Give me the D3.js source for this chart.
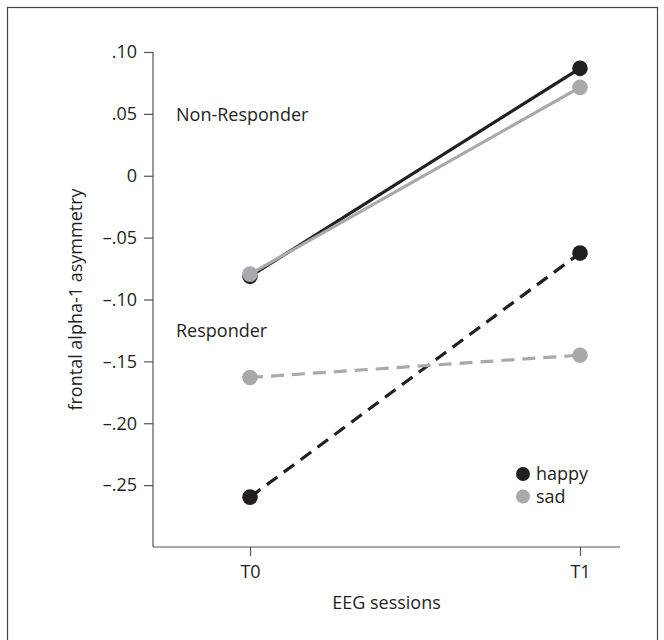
<!DOCTYPE html>
<meta charset="utf-8">
<style>
body { margin: 0; background: #fff; }
text { font-family: "Open Sans", sans-serif; fill: #231f20; }
.axis path, .axis line { stroke: #555; stroke-width: 1.2; }
</style>
<body>
<script src="https://cdn.jsdelivr.net/npm/d3@7"></script>
<script>

// data
var sessions = ["T0", "T1"];
var yTicks = [0.10, 0.05, 0, -0.05, -0.10, -0.15, -0.20, -0.25];
var yTickLabels = [".10", ".05", "0", "\u2013.05", "\u2013.10", "\u2013.15", "\u2013.20", "\u2013.25"];
var nonRespHappy = [-0.0813, 0.0868];
var nonRespSad = [-0.0795, 0.0714];
var respHappy = [-0.2597, -0.0625];
var respSad = [-0.1630, -0.1450];
var emotions = ["happy", "sad"];

var black = "#231f20", grey = "#a7a9ac";
var fs = "18px";

var W = 664, H = 640;
var svg = d3.select("body").append("svg")
  .attr("width", W)
  .attr("height", H);

// frame
svg.append("rect")
  .attr("x", 7.5).attr("y", 7.5)
  .attr("width", 650).attr("height", 660)
  .attr("fill", "none")
  .attr("stroke", "#444")
  .attr("stroke-width", 1.2);

var mLeft = 153, mRight = 620, mTop = 52, mBottom = 547;

var x = d3.scalePoint()
  .domain(sessions)
  .range([250, 580]);

var y = d3.scaleLinear()
  .domain([-0.30, 0.10])
  .range([mBottom, mTop]);

// y axis
var yAxis = svg.append("g")
  .attr("class", "axis")
  .attr("transform", "translate(" + mLeft + ",0)")
  .call(d3.axisLeft(y)
    .tickValues(yTicks)
    .tickFormat(function(d, i) { return yTickLabels[i]; })
    .tickSize(9)
    .tickSizeOuter(0)
    .tickPadding(7));
yAxis.select(".domain").remove();
yAxis.append("line")
  .attr("x1", 0).attr("x2", 0)
  .attr("y1", y(0.10)).attr("y2", mBottom);
yAxis.selectAll("text")
  .style("font-size", fs)
  .attr("font-family", null)
  .attr("fill", "#231f20");

// x axis
var xAxis = svg.append("g")
  .attr("class", "axis")
  .attr("transform", "translate(0," + mBottom + ")")
  .call(d3.axisBottom(x)
    .tickSize(9)
    .tickSizeOuter(0)
    .tickPadding(9));
xAxis.select(".domain").remove();
xAxis.append("line")
  .attr("x1", mLeft).attr("x2", mRight)
  .attr("y1", 0).attr("y2", 0);
xAxis.selectAll("text")
  .style("font-size", fs)
  .attr("fill", "#231f20");
svg.selectAll(".axis").attr("font-family", null);

// axis titles
svg.append("text")
  .attr("x", (mLeft + mRight) / 2)
  .attr("y", 609)
  .attr("text-anchor", "middle")
  .style("font-size", fs)
  .text("EEG sessions");

svg.append("text")
  .attr("transform", "translate(82," + (mTop + mBottom) / 2 + ") rotate(-90)")
  .attr("text-anchor", "middle")
  .style("font-size", fs)
  .text("frontal alpha-1 asymmetry");

// group labels
svg.append("text")
  .attr("x", 176).attr("y", 121)
  .style("font-size", fs)
  .text("Non-Responder");
svg.append("text")
  .attr("x", 176).attr("y", 337)
  .style("font-size", fs)
  .text("Responder");

var series = [
  {vals: respHappy, color: black, dash: "13,8"},
  {vals: respSad, color: grey, dash: "13,8"},
  {vals: nonRespHappy, color: black, dash: null},
  {vals: nonRespSad, color: grey, dash: null}
];

var line = d3.line()
  .x(function(d, i) { return x(sessions[i]); })
  .y(function(d) { return y(d); });

series.forEach(function(s) {
  var g = svg.append("g");
  g.append("path")
    .datum(s.vals)
    .attr("d", line)
    .attr("fill", "none")
    .attr("stroke", s.color)
    .attr("stroke-width", 3.2)
    .attr("stroke-dasharray", s.dash);
  g.selectAll("circle")
    .data(s.vals)
    .enter()
    .append("circle")
    .attr("cx", function(d, i) { return x(sessions[i]); })
    .attr("cy", function(d) { return y(d); })
    .attr("r", 7.8)
    .attr("fill", s.color);
});

// legend
var legend = svg.append("g")
  .attr("transform", "translate(523,474)");
emotions.forEach(function(e, i) {
  legend.append("circle")
    .attr("cx", 0).attr("cy", i * 22.5)
    .attr("r", 7)
    .attr("fill", i == 0 ? black : grey);
  legend.append("text")
    .attr("x", 13).attr("y", i * 22.5 + 6)
    .style("font-size", fs)
    .text(e);
});

</script>
</body>
